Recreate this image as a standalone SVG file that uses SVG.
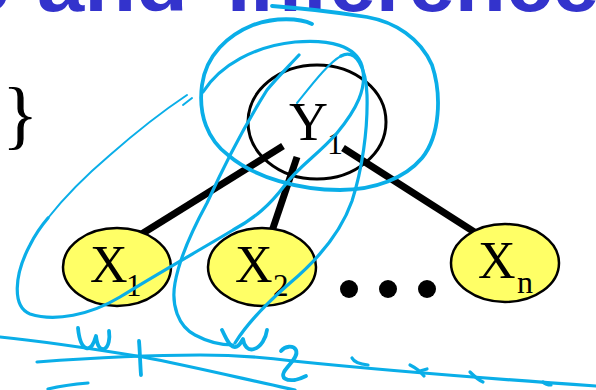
<svg xmlns="http://www.w3.org/2000/svg" width="596" height="390" viewBox="0 0 596 390">
  <style>
    .title { font-family: "Liberation Sans", Arial, sans-serif; font-weight: bold; fill: #3333cc; }
    .serif { font-family: "Liberation Serif", "Times New Roman", serif; fill: #000; }
    .node-y { fill: #ffffff; stroke: #000; stroke-width: 3; }
    .node-x { fill: #ffff66; stroke: #000; stroke-width: 2.5; }
    .edge { stroke: #000; stroke-width: 7; fill: none; }
    .ink { fill: none; stroke: #0aaee8; stroke-linecap: round; stroke-linejoin: round; }
    .thick { stroke-width: 3.8; }
    .mid { stroke-width: 3.2; }
    .thin { stroke-width: 2; }
  </style>

  <!-- slide title, cropped at the top edge -->
  <g id="title">
    <text class="title" x="-37" y="10.5" font-size="78">o</text>
    <text class="title" x="37" y="10.5" font-size="78" textLength="151" lengthAdjust="spacingAndGlyphs">and</text>
    <text class="title" x="227" y="10.5" font-size="80" textLength="372" lengthAdjust="spacingAndGlyphs">Inference</text>
  </g>

  <!-- closing brace of a formula on the left -->
  <text class="serif" x="2" y="140" font-size="76">}</text>

  <!-- class node -->
  <g id="node-y1">
    <ellipse class="node-y" cx="317" cy="122" rx="69" ry="57"/>
    <text class="serif" x="289" y="140" font-size="54">Y</text>
    <text class="serif" x="327" y="154" font-size="32">1</text>
  </g>

  <!-- edges from the class node to the features -->
  <g id="edges">
    <line class="edge" x1="283" y1="146" x2="140" y2="235"/>
    <line class="edge" x1="297" y1="157" x2="272" y2="231"/>
    <line class="edge" x1="343" y1="148" x2="479" y2="235"/>
  </g>

  <!-- feature nodes -->
  <g id="node-x1">
    <ellipse class="node-x" cx="117" cy="267" rx="54" ry="39"/>
    <text class="serif" x="90" y="282" font-size="52">X</text>
    <text class="serif" x="126" y="296" font-size="31">1</text>
  </g>
  <g id="node-x2">
    <ellipse class="node-x" cx="262" cy="267" rx="54" ry="39"/>
    <text class="serif" x="235" y="282" font-size="52">X</text>
    <text class="serif" x="273" y="296" font-size="31">2</text>
  </g>
  <g id="ellipsis">
    <circle cx="349" cy="289" r="9"/>
    <circle cx="388" cy="289" r="9"/>
    <circle cx="427" cy="289" r="9"/>
  </g>
  <g id="node-xn">
    <ellipse class="node-x" cx="505" cy="263" rx="54" ry="39"/>
    <text class="serif" x="478" y="278" font-size="52">X</text>
    <text class="serif" x="517" y="293" font-size="32">n</text>
  </g>

  <!-- handwritten pen annotations -->
  <g id="annotations">
    <!-- big loop around Y1 -->
    <path class="ink thick" d="M312,24 C300,18 275,17 253,25 C228,35 206,55 202,85 C198,115 208,140 228,155 C255,178 300,190 340,190 C375,190 405,178 422,158 C440,136 442,95 432,65 C420,38 395,22 367,17 C335,12 300,8 272,6"/>
    <!-- loop over Y1 and X1 -->
    <path class="ink mid" d="M203,92 C220,65 255,46 295,42 C330,39 356,46 362,66 C368,88 356,110 337,133 C318,155 300,165 285,185 C270,205 255,218 233,230 C200,250 160,272 120,297 C90,315 55,322 30,314 C12,307 14,275 30,245 C36,233 42,225 48,218"/>
    <path class="ink thin" d="M48,218 C70,190 90,172 110,155 C135,133 160,113 187,95"/>
    <path class="ink thin" d="M183,105 L192,98"/>
    <!-- loop over Y1 and X2 -->
    <path class="ink mid" d="M299,55 C285,70 275,80 267,90 C245,125 222,170 207,203 C195,225 180,255 175,283 C171,305 178,326 195,335 C208,342 222,345 233,345"/>
    <path class="ink thin" d="M297,103 C310,87 328,63 341,56"/>
    <path class="ink mid" d="M341,56 C356,48 366,68 367,95 C368,130 362,170 352,201 C340,235 315,262 290,283 C268,302 248,322 235,343"/>
    <!-- w1 -->
    <path class="ink thick" d="M78,328 C79,338 81,346 86,348 C91,350 94,343 96,336 C97,344 99,350 104,349 C109,347 110,338 109,331"/>
    <path class="ink thick" d="M139,341 C140,352 140,362 141,375"/>
    <!-- w2 -->
    <path class="ink thick" d="M222,330 C226,338 229,346 234,347 C239,348 241,342 243,339 C244,346 248,351 254,349 C261,347 266,338 267,330"/>
    <path class="ink thick" d="M281,351 C285,346 293,345 296,350 C299,357 288,365 284,372 C281,378 286,381 295,380 C300,379 304,377 306,376"/>
    <!-- underlines -->
    <path class="ink mid" d="M0,337 C50,342 100,350 143,357 C190,366 240,378 295,390"/>
    <path class="ink mid" d="M37,362 C90,358 150,355 200,355 C240,355 270,358 293,361 C380,370 480,378 596,386"/>
    <path class="ink mid" d="M48,389 C60,386 75,384 88,383"/>
    <path class="ink mid" d="M352,358 C354,362 358,364 368,365"/>
    <path class="ink mid" d="M410,365 C416,368 420,371 424,376 M420,371 L427,369"/>
    <path class="ink mid" d="M470,372 C474,376 478,380 483,382"/>
    <path class="ink mid" d="M543,382 C545,384 548,385 551,385"/>
  </g>
</svg>
